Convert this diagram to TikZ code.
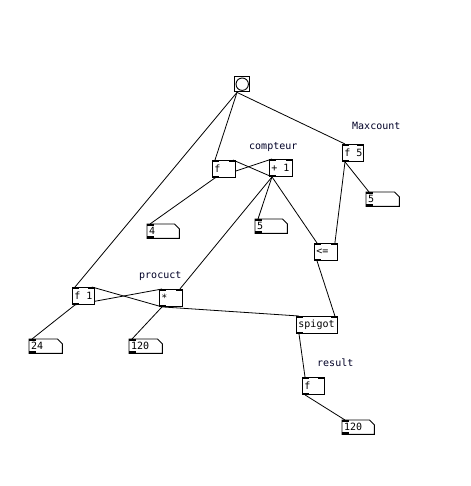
\documentclass[tikz,border=0pt]{standalone}
\usepackage{fontspec}
\setmonofont{DejaVu Sans Mono}
\usetikzlibrary{calc,backgrounds}
\tikzset{
  obj/.style={draw=black,line width=0.9pt,fill=white,anchor=north west,inner xsep=2pt,inner ysep=0pt,font=\ttfamily\fontsize{10}{12}\selectfont,text=black},
  numb/.style={fill=white,anchor=north west,inner xsep=2pt,inner ysep=0pt,font=\ttfamily\fontsize{10}{12}\selectfont,text=black},
  cmt/.style={anchor=west,inner sep=0pt,font=\ttfamily\fontsize{10}{12}\selectfont,text=black!85!blue},
  wire/.style={draw=black,line width=0.8pt},
  port/.style={fill=black}
}
\newcommand\pdobj[6]{%
  \node[obj,minimum height=#5pt] (#1) at (#2,#3) {\makebox[\dimexpr#4pt-4pt\relax][l]{#6}};}
\newcommand\pdnum[6]{%
  \node[numb,minimum height=#5pt] (#1) at (#2,#3) {\makebox[\dimexpr#4pt-4pt\relax][l]{#6}};
  \draw[line width=0.9pt] (#1.north west) -- ($(#1.north east)+(-5,0)$) -- ($(#1.north east)+(0,5)$) -- (#1.south east) -- (#1.south west) -- cycle;
  \fill[port] (#1.north west) rectangle ++(7,2);
  \fill[port] (#1.south west) rectangle ++(7,-2);}
\newcommand\intwo[1]{%
  \fill[port] (#1.north west) rectangle ++(7,2);
  \fill[port] (#1.north east) rectangle ++(-7,2);
  \fill[port] (#1.south west) rectangle ++(7,-2);}
\begin{document}
\begin{tikzpicture}[x=1pt,y=-1pt]
\useasboundingbox (0,0) rectangle (470,486);
% bang
\node[draw=black,line width=1.4pt,fill=white,minimum size=15pt,inner sep=0pt,anchor=north west] (bang) at (234,76) {};
\draw[line width=0.9pt] (bang.center) circle (6.2);
% objects
\pdobj{fL}{212}{160}{23}{17}{f}\intwo{fL}
\pdobj{plus}{269}{159}{23}{17}{+ 1}\intwo{plus}
\pdobj{f5}{342}{144}{21}{17}{f 5}\intwo{f5}
\pdobj{le}{314}{243}{23}{17}{<=}\intwo{le}
\pdobj{fone}{72}{287}{22}{17}{f 1}\intwo{fone}
\pdobj{mul}{159}{289}{23}{17}{*}\intwo{mul}
\pdobj{spig}{296}{316}{41}{17}{spigot}\intwo{spig}
\pdobj{fR}{302}{377}{22}{17}{f}\intwo{fR}
% number boxes
\pdnum{nfour}{147}{224}{32}{14}{4}
\pdnum{nfivea}{255}{219}{32}{14}{5}
\pdnum{nfiveb}{366}{192}{33}{14}{5}
\pdnum{ntf}{29}{339}{33}{14}{24}
\pdnum{nota}{129}{339}{33}{14}{120}
\pdnum{notb}{342}{420}{32}{14}{120}
% comments
\node[cmt] (cmax) at (352,126) {Maxcount};
\node[cmt] (ccpt) at (249,147) {compteur};
\node[cmt] (cpro) at (139,276) {procuct};
\node[cmt] (cres) at (317,363) {result};
% wires
\begin{pgfonlayer}{background}
\path[wire] ($(bang.south west)+(3,0)$) -- ($(fL.north west)+(3,0)$);
\path[wire] ($(bang.south west)+(3,0)$) -- ($(fone.north west)+(3,0)$);
\path[wire] ($(bang.south west)+(3,0)$) -- ($(f5.north west)+(3,0)$);
\path[wire] ($(fL.south west)+(3,0)$) -- ($(plus.north west)+(3,0)$);
\path[wire] ($(plus.south west)+(3,0)$) -- ($(fL.north east)+(-3,0)$);
\path[wire] ($(fL.south west)+(3,0)$) -- ($(nfour.north west)+(3,0)$);
\path[wire] ($(plus.south west)+(3,0)$) -- ($(nfivea.north west)+(3,0)$);
\path[wire] ($(plus.south west)+(3,0)$) -- ($(le.north west)+(3,0)$);
\path[wire] ($(plus.south west)+(3,0)$) -- ($(mul.north east)+(-3,0)$);
\path[wire] ($(f5.south west)+(3,0)$) -- ($(le.north east)+(-3,0)$);
\path[wire] ($(f5.south west)+(3,0)$) -- ($(nfiveb.north west)+(3,0)$);
\path[wire] ($(le.south west)+(3,0)$) -- ($(spig.north east)+(-3,0)$);
\path[wire] ($(fone.south west)+(3,0)$) -- ($(ntf.north west)+(3,0)$);
\path[wire] ($(fone.south west)+(3,0)$) -- ($(mul.north west)+(3,0)$);
\path[wire] ($(mul.south west)+(3,0)$) -- ($(fone.north east)+(-3,0)$);
\path[wire] ($(mul.south west)+(3,0)$) -- ($(nota.north west)+(3,0)$);
\path[wire] ($(mul.south west)+(3,0)$) -- ($(spig.north west)+(3,0)$);
\path[wire] ($(spig.south west)+(3,0)$) -- ($(fR.north west)+(3,0)$);
\path[wire] ($(fR.south west)+(3,0)$) -- ($(notb.north west)+(3,0)$);
\end{pgfonlayer}
\end{tikzpicture}
\end{document}
